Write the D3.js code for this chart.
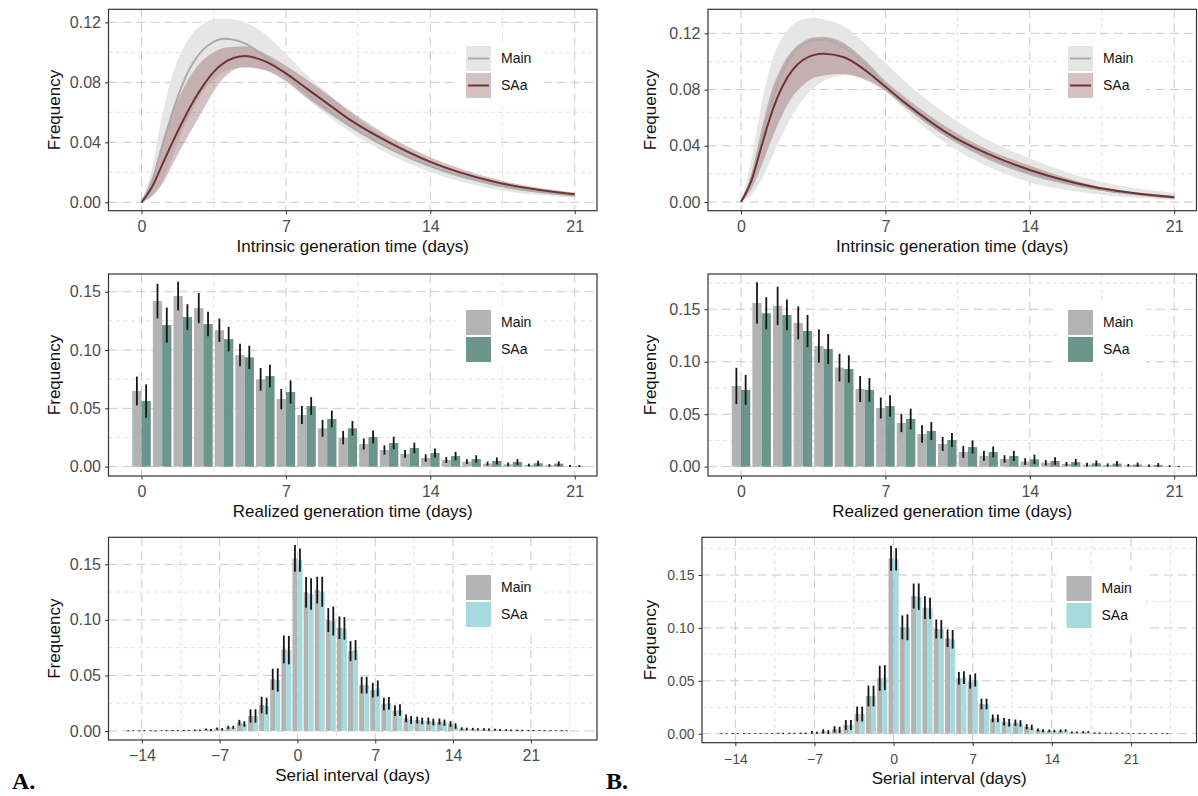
<!DOCTYPE html>
<html>
<head>
<meta charset="utf-8">
<script src="https://cdn.jsdelivr.net/npm/d3@7"></script>
<style>
  body { margin: 0; background: #fff; }
  svg { display: block; }
  text { font-family: "Liberation Sans", Arial, Helvetica, sans-serif; }
</style>
</head>
<body>
<svg id="chart" width="1198" height="796"></svg>
<script>
// ---- data ----
const seriesNames = ['Main', 'SAa'];

// intrinsic generation time curves (days, frequency)
const intrinsicDays = [0, 0.5, 1, 1.5, 2, 2.5, 3, 3.5, 4, 5, 6, 7, 8, 9, 10, 12, 14, 17, 21];
const intrinsicA_main   = [0, .014, .037, .060, .079, .093, .102, .107, .109, .106, .097, .085, .073, .062, .052, .036, .024, .012, .0045];
const intrinsicA_mainLo = [0, .004, .014, .030, .048, .062, .074, .082, .087, .090, .088, .080, .069, .058, .048, .032, .020, .009, .003];
const intrinsicA_mainHi = [0, .022, .058, .085, .102, .113, .119, .122, .1225, .120, .112, .099, .085, .073, .061, .042, .028, .0145, .0055];
const intrinsicA_saa    = [0, .010, .025, .040, .054, .067, .078, .087, .093, .0975, .094, .086, .076, .066, .056, .040, .027, .014, .0053];
const intrinsicA_saaLo  = [0, .004, .012, .025, .038, .050, .062, .074, .083, .090, .088, .081, .070, .060, .051, .036, .024, .012, .0042];
const intrinsicA_saaHi  = [0, .015, .040, .060, .075, .087, .095, .100, .103, .104, .099, .091, .082, .072, .062, .044, .030, .016, .0065];

const intrinsicB_main   = [0, .017, .045, .072, .092, .105, .112, .115, .1155, .110, .098, .083, .069, .057, .047, .032, .021, .010, .003];
const intrinsicB_mainLo = [0, .005, .016, .032, .048, .062, .073, .081, .086, .090, .088, .079, .065, .052, .041, .025, .014, .006, .0015];
const intrinsicB_mainHi = [0, .030, .070, .100, .117, .126, .130, .131, .130, .125, .113, .099, .085, .073, .062, .044, .031, .016, .0065];
const intrinsicB_saa    = [0, .015, .040, .064, .082, .094, .101, .1045, .1055, .103, .094, .082, .070, .059, .049, .034, .0228, .011, .0033];
const intrinsicB_saaLo  = [0, .009, .026, .045, .062, .075, .083, .088, .090, .091, .087, .079, .067, .056, .046, .030, .019, .009, .0025];
const intrinsicB_saaHi  = [0, .020, .052, .080, .097, .108, .114, .117, .1175, .113, .101, .086, .074, .063, .053, .037, .026, .012, .0045];

// realized generation time, days 0..21
const realizedDays = d3.range(0, 22);
const realizedA_main    = [.0649, .142, .1463, .136, .117, .0957, .0749, .058, .0443, .0329, .0249, .0194, .0143, .0109, .0074, .0057, .0043, .0026, .002, .0014, .0011, .0006];
const realizedA_mainErr = [.0124, .0148, .0123, .0129, .010, .0097, .0097, .0087, .0077, .0072, .0058, .0047, .0039, .0033, .0032, .0025, .002, .0017, .0015, .0012, .001, .0008];
const realizedA_saa     = [.0563, .1214, .1283, .1223, .1094, .0937, .0777, .064, .052, .0409, .0329, .0254, .0203, .016, .0117, .0091, .0066, .0049, .004, .0029, .0026, .0005];
const realizedA_saaErr  = [.0143, .015, .011, .0105, .0105, .010, .0096, .010, .0076, .0072, .0063, .0056, .0054, .0046, .0039, .0036, .0032, .003, .0025, .0022, .002, .0008];

const realizedB_main    = [.0769, .156, .1532, .137, .115, .0944, .074, .0559, .0416, .0311, .0216, .014, .0102, .0073, .0048, .0038, .0025, .0019, .0016, .0013, .001, .0006];
const realizedB_mainErr = [.0173, .0197, .0183, .0157, .0158, .0132, .0124, .010, .0087, .0083, .0067, .0056, .0047, .0036, .0032, .0025, .002, .0018, .0015, .0012, .001, .0008];
const realizedB_saa     = [.0731, .1462, .1446, .1293, .1122, .0931, .0731, .0578, .0454, .034, .0254, .0187, .014, .0102, .007, .0054, .0044, .0032, .0029, .0019, .0016, .0003];
const realizedB_saaErr  = [.0143, .0153, .0147, .0153, .0143, .013, .0113, .0102, .0099, .0085, .0067, .0062, .0052, .0048, .0045, .0035, .003, .0027, .0025, .002, .0018, .0005];

// serial interval, days -15..24
const serialDays = d3.range(-15, 25);
const serialA_main    = [.0002, .0002, .0003, .0003, .0004, .0005, .0008, .0015, .0021, .0033, .0075, .0135, .0234, .0465, .0735,
                         .1553, .1247, .1268, .0998, .0929, .0719, .0413, .0368, .0243, .0183, .0114, .0099, .009, .0084, .0063,
                         .0021, .0018, .0015, .0012, .0009, .0006, .0005, .0004, .0003, .0003];
const serialA_mainErr = [.0004, .0004, .0004, .0004, .0005, .0005, .0006, .0008, .001, .0014, .0025, .006, .0075, .0096, .0125,
                         .012, .0138, .012, .0108, .0102, .009, .0075, .0066, .0057, .0048, .0035, .003, .003, .0028, .0025,
                         .0012, .001, .001, .0008, .0007, .0006, .0005, .0004, .0004, .0004];
const serialA_saa     = [.0002, .0002, .0002, .0003, .0003, .0004, .0006, .0009, .0015, .0033, .0063, .0135, .0225, .0459, .0728,
                         .1538, .1232, .1253, .0989, .0923, .0728, .0413, .0383, .0249, .0189, .0099, .009, .0081, .0075, .0045,
                         .0018, .0015, .0012, .0009, .0006, .0005, .0004, .0003, .0003, .0002];
const serialA_saaErr  = [.0004, .0004, .0004, .0004, .0005, .0005, .0006, .0008, .001, .0014, .0025, .006, .0075, .0105, .0128,
                         .0105, .0142, .0135, .013, .0102, .009, .0075, .0072, .0057, .0052, .0035, .003, .003, .0028, .0025,
                         .0012, .001, .001, .0008, .0007, .0006, .0005, .0004, .0004, .0004];

const serialB_main    = [.0002, .0002, .0002, .0003, .0003, .0004, .0004, .0005, .0013, .0022, .0041, .0082, .0186, .0356, .0524,
                         .1658, .1005, .1301, .1191, .099, .0902, .0524, .0492, .0281, .0145, .0113, .0104, .0066, .0035, .0028,
                         .0028, .0013, .0016, .0006, .0005, .0005, .0004, .0004, .0003, .0003];
const serialB_mainErr = [.0004, .0004, .0004, .0004, .0004, .0005, .0005, .0006, .0012, .002, .003, .0047, .007, .0098, .0118,
                         .0118, .0113, .0118, .0107, .009, .0083, .006, .0066, .005, .0036, .0036, .003, .0025, .0015, .0012,
                         .0012, .0008, .0008, .0006, .0005, .0005, .0004, .0004, .0004, .0004];
const serialB_saa     = [.0002, .0002, .0002, .0002, .0003, .0003, .0004, .0004, .0009, .0016, .0035, .0082, .0186, .0356, .053,
                         .1648, .1005, .1295, .1185, .0987, .0892, .053, .0508, .0281, .0145, .0104, .0097, .006, .0028, .0025,
                         .0031, .0013, .0016, .0006, .0005, .0005, .0004, .0003, .0003, .0003];
const serialB_saaErr  = [.0004, .0004, .0004, .0004, .0004, .0005, .0005, .0006, .001, .0018, .003, .0047, .007, .0098, .0118,
                         .0105, .0122, .0125, .010, .0087, .0088, .006, .0062, .005, .0036, .0036, .003, .0025, .0015, .0012,
                         .0012, .0008, .0008, .0006, .0005, .0005, .0004, .0004, .0004, .0004];

// tick labels
const genTicks = [0, 7, 14, 21];
const serialTicks = [-14, -7, 0, 7, 14, 21];
const intrinsicYTicks = [0, 0.04, 0.08, 0.12];
const barYTicks = [0, 0.05, 0.10, 0.15];

// ---- styles ----
const col = {
  mainLine: '#ABABAB', mainBand: '#E6E6E6',
  saaLine: '#6E3434', saaBand: 'rgba(128, 66, 66, 0.33)', saaKey: '#D4C1C1',
  mainBar: '#B3B3B3', greenBar: '#6C968B', cyanBar: '#A7DADE',
  err: '#151515', border: '#333333', tick: '#4D4D4D'
};

const svg = d3.select('#chart');

function drawFrame(p) {
  const x = d3.scaleLinear().domain(p.xDomain).range([p.left, p.right]);
  const y = d3.scaleLinear().domain(p.yDomain).range([p.bottom, p.top]);
  const g = svg.append('g');

  // grid: minor then major
  const xStep = p.xTicks[1] - p.xTicks[0];
  const yStep = p.yTicks[1] - p.yTicks[0];
  const xMinor = d3.range(p.xTicks[0] - xStep / 2, p.xDomain[1], xStep).filter(v => v > p.xDomain[0]);
  const yMinor = d3.range(p.yTicks[0] + yStep / 2, p.yDomain[1], yStep);
  const grid = g.append('g');
  const minorStyle = s => s.attr('stroke', '#DBDBDB').attr('stroke-width', 0.8).attr('stroke-dasharray', '4,3.5');
  const majorStyle = s => s.attr('stroke', '#CBCBCB').attr('stroke-width', 1).attr('stroke-dasharray', '9,5');
  grid.selectAll('.xmin').data(xMinor).join('line')
    .attr('x1', d => x(d)).attr('x2', d => x(d)).attr('y1', p.top).attr('y2', p.bottom).call(minorStyle);
  grid.selectAll('.ymin').data(yMinor).join('line')
    .attr('y1', d => y(d)).attr('y2', d => y(d)).attr('x1', p.left).attr('x2', p.right).call(minorStyle);
  grid.selectAll('.xmaj').data(p.xTicks).join('line')
    .attr('x1', d => x(d)).attr('x2', d => x(d)).attr('y1', p.top).attr('y2', p.bottom).call(majorStyle);
  grid.selectAll('.ymaj').data(p.yTicks).join('line')
    .attr('y1', d => y(d)).attr('y2', d => y(d)).attr('x1', p.left).attr('x2', p.right).call(majorStyle);

  // axes
  const ax = g.append('g').attr('transform', `translate(0,${p.bottom})`)
    .call(d3.axisBottom(x).tickValues(p.xTicks).tickSize(3.5).tickPadding(p.tickSize > 15 ? 6 : 7.5).tickFormat(d3.format('d')));
  const ay = g.append('g').attr('transform', `translate(${p.left},0)`)
    .call(d3.axisLeft(y).tickValues(p.yTicks).tickSize(3.5).tickPadding(4).tickFormat(d3.format('.2f')));
  [ax, ay].forEach(a => {
    a.select('.domain').remove();
    a.selectAll('.tick line').attr('stroke', col.border).attr('stroke-width', 1);
    a.selectAll('.tick text').attr('fill', col.tick).style('font-size', p.tickSize + 'px')
      .attr('font-family', '"Liberation Sans", Arial, sans-serif');
  });

  // titles
  g.append('text').attr('x', (p.left + p.right) / 2).attr('y', p.bottom + 41)
    .attr('text-anchor', 'middle').attr('fill', '#111').style('font-size', '17px').text(p.xTitle);
  g.append('text').attr('transform', `translate(${p.yTitleX},${(p.top + p.bottom) / 2}) rotate(-90)`)
    .attr('text-anchor', 'middle').attr('fill', '#111').style('font-size', '17px').text('Frequency');

  return { g, x, y };
}

function drawBorderAndLegend(p, g, keys) {
  g.append('rect').attr('x', p.left).attr('y', p.top)
    .attr('width', p.right - p.left).attr('height', p.bottom - p.top)
    .attr('fill', 'none').attr('stroke', col.border).attr('stroke-width', 1.2);

  const ks = 25, gap = 2;
  const lg = g.append('g');
  lg.append('rect').attr('x', p.legendX - 10).attr('y', p.legendY - 5)
    .attr('width', 88).attr('height', 2 * ks + gap + 10).attr('fill', '#fff');
  keys.forEach((k, i) => {
    const ky = p.legendY + i * (ks + gap);
    lg.append('rect').attr('x', p.legendX).attr('y', ky).attr('width', ks).attr('height', ks).attr('fill', k.fill);
    if (k.line) {
      lg.append('line').attr('x1', p.legendX + 2).attr('x2', p.legendX + ks - 2)
        .attr('y1', ky + ks / 2).attr('y2', ky + ks / 2).attr('stroke', k.line).attr('stroke-width', 2);
    }
    lg.append('text').attr('x', p.legendX + ks + 10).attr('y', ky + ks / 2).attr('dy', '0.35em')
      .attr('fill', '#111').style('font-size', '14px').text(k.name);
  });
}

function curvePanel(p, s) {
  const { g, x, y } = drawFrame(p);
  const pts = (arr) => intrinsicDays.map((d, i) => [d, arr[i]]);
  const band = (lo, hi) => intrinsicDays.map((d, i) => ({ d, lo: lo[i], hi: hi[i] }));
  const area = d3.area().curve(d3.curveMonotoneX).x(v => x(v.d)).y0(v => y(v.lo)).y1(v => y(v.hi));
  const line = d3.line().curve(d3.curveMonotoneX).x(v => x(v[0])).y(v => y(v[1]));
  g.append('path').attr('d', area(band(s.mainLo, s.mainHi))).attr('fill', col.mainBand);
  g.append('path').attr('d', area(band(s.saaLo, s.saaHi))).attr('fill', col.saaBand);
  g.append('path').attr('d', line(pts(s.main))).attr('fill', 'none').attr('stroke', col.mainLine).attr('stroke-width', 2);
  g.append('path').attr('d', line(pts(s.saa))).attr('fill', 'none').attr('stroke', col.saaLine).attr('stroke-width', 2);
  drawBorderAndLegend(p, g, [
    { name: seriesNames[0], fill: col.mainBand, line: col.mainLine },
    { name: seriesNames[1], fill: col.saaKey, line: col.saaLine }
  ]);
}

function barPanel(p, days, s, saaColor) {
  const { g, x, y } = drawFrame(p);
  const half = 0.45;
  const rows = days.map((d, i) => ({ d, m: s.main[i], me: s.mainErr[i], a: s.saa[i], ae: s.saaErr[i] }));
  g.append('g').selectAll('rect').data(rows).join('rect')
    .attr('x', r => x(r.d - half)).attr('width', r => x(r.d) - x(r.d - half))
    .attr('y', r => y(r.m)).attr('height', r => y(0) - y(r.m)).attr('fill', col.mainBar);
  g.append('g').selectAll('rect').data(rows).join('rect')
    .attr('x', r => x(r.d)).attr('width', r => x(r.d + half) - x(r.d))
    .attr('y', r => y(r.a)).attr('height', r => y(0) - y(r.a)).attr('fill', saaColor);
  const eg = g.append('g').attr('stroke', col.err).attr('stroke-width', p.errWidth);
  eg.selectAll('.em').data(rows).join('line')
    .attr('x1', r => x(r.d - half / 2)).attr('x2', r => x(r.d - half / 2))
    .attr('y1', r => y(r.m - r.me)).attr('y2', r => y(r.m + r.me));
  eg.selectAll('.ea').data(rows).join('line')
    .attr('x1', r => x(r.d + half / 2)).attr('x2', r => x(r.d + half / 2))
    .attr('y1', r => y(r.a - r.ae)).attr('y2', r => y(r.a + r.ae));
  drawBorderAndLegend(p, g, [
    { name: seriesNames[0], fill: col.mainBar },
    { name: seriesNames[1], fill: saaColor }
  ]);
}

// ---- panel layout ----
const leftCol = { left: 108.5, right: 597, yTitleX: 60, legendX: 466 };
const rightCol = { left: 708, right: 1196.5, yTitleX: 656, legendX: 1068 };

curvePanel({ ...leftCol, top: 9.3, bottom: 210.7, xDomain: [-1.6, 22.08], yDomain: [-0.0056, 0.1287],
  xTicks: genTicks, yTicks: intrinsicYTicks, tickSize: 16, xTitle: 'Intrinsic generation time (days)', legendY: 46 },
  { main: intrinsicA_main, mainLo: intrinsicA_mainLo, mainHi: intrinsicA_mainHi,
    saa: intrinsicA_saa, saaLo: intrinsicA_saaLo, saaHi: intrinsicA_saaHi });

curvePanel({ ...rightCol, top: 9.3, bottom: 210.7, xDomain: [-1.6, 22.08], yDomain: [-0.0062, 0.1371],
  xTicks: genTicks, yTicks: intrinsicYTicks, tickSize: 16, xTitle: 'Intrinsic generation time (days)', legendY: 46 },
  { main: intrinsicB_main, mainLo: intrinsicB_mainLo, mainHi: intrinsicB_mainHi,
    saa: intrinsicB_saa, saaLo: intrinsicB_saaLo, saaHi: intrinsicB_saaHi });

barPanel({ ...leftCol, top: 274, bottom: 476, xDomain: [-1.6, 22.08], yDomain: [-0.008, 0.1652],
  xTicks: genTicks, yTicks: barYTicks, tickSize: 16, xTitle: 'Realized generation time (days)', legendY: 310, errWidth: 1.8 },
  realizedDays, { main: realizedA_main, mainErr: realizedA_mainErr, saa: realizedA_saa, saaErr: realizedA_saaErr }, col.greenBar);

barPanel({ ...rightCol, top: 274, bottom: 476, xDomain: [-1.6, 22.08], yDomain: [-0.0089, 0.1836],
  xTicks: genTicks, yTicks: barYTicks, tickSize: 16, xTitle: 'Realized generation time (days)', legendY: 310, errWidth: 1.8 },
  realizedDays, { main: realizedB_main, mainErr: realizedB_mainErr, saa: realizedB_saa, saaErr: realizedB_saaErr }, col.greenBar);

barPanel({ ...leftCol, top: 537.3, bottom: 740, xDomain: [-17.0, 26.95], yDomain: [-0.0081, 0.1743],
  xTicks: serialTicks, yTicks: barYTicks, tickSize: 16, xTitle: 'Serial interval (days)', legendY: 575, errWidth: 1.8 },
  serialDays, { main: serialA_main, mainErr: serialA_mainErr, saa: serialA_saa, saaErr: serialA_saaErr }, col.cyanBar);

barPanel({ ...rightCol, left: 702, top: 537.3, bottom: 742.7, xDomain: [-16.95, 26.8], yDomain: [-0.0085, 0.1856],
  xTicks: serialTicks, yTicks: barYTicks, tickSize: 14, xTitle: 'Serial interval (days)', legendY: 576, legendX: 1066.5, errWidth: 1.8 },
  serialDays, { main: serialB_main, mainErr: serialB_mainErr, saa: serialB_saa, saaErr: serialB_saaErr }, col.cyanBar);

// panel letters
svg.append('text').attr('x', 12).attr('y', 789).style('font-family', '"Liberation Serif", "Times New Roman", serif')
  .style('font-size', '24px').style('font-weight', 'bold').text('A.');
svg.append('text').attr('x', 606).attr('y', 789).style('font-family', '"Liberation Serif", "Times New Roman", serif')
  .style('font-size', '24px').style('font-weight', 'bold').text('B.');
</script>
</body>
</html>
